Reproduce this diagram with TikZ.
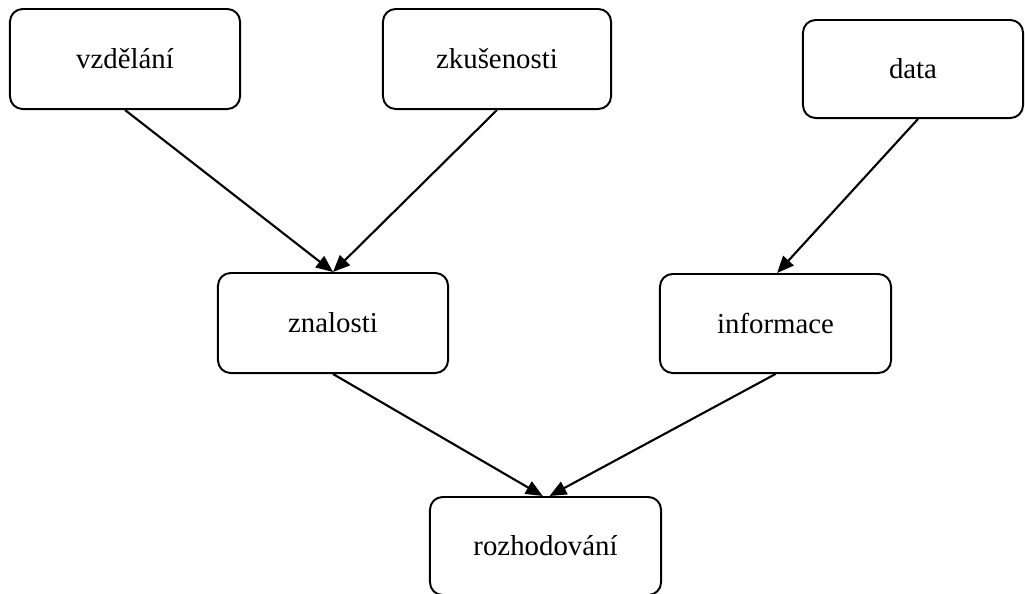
\documentclass[tikz,border=0pt]{standalone}
\usepackage{fontspec}
\setmainfont{Liberation Serif}
\usetikzlibrary{arrows.meta}
\begin{document}
\begin{tikzpicture}[x=0.025cm,y=-0.025cm,
  box/.style={draw,line width=1.4pt,rounded corners=9pt,inner sep=0pt,
    font=\fontsize{20.5pt}{24pt}\selectfont,fill=white},
  arr/.style={-{Triangle[length=12pt,width=10pt]},line width=1.5pt}]
\useasboundingbox (0,0) rectangle (1025,593);
\node[box,minimum width=5.75cm,minimum height=2.5cm] (vzd) at (125,59) {vzdělání};
\node[box,minimum width=5.7cm,minimum height=2.5cm] (zku) at (497,59) {zkušenosti};
\node[box,minimum width=5.5cm,minimum height=2.45cm] (data) at (913,69) {data};
\node[box,minimum width=5.75cm,minimum height=2.5cm] (zna) at (333,323) {znalosti};
\node[box,minimum width=5.775cm,minimum height=2.475cm] (inf) at (775.5,323.5) {informace};
\node[box,minimum width=5.775cm,minimum height=2.45cm] (roz) at (545.5,546) {rozhodování};
\draw[arr] (vzd.south) -- (zna.north);
\draw[arr] (zku.south) -- (zna.north);
\draw[arr] ([xshift=0.125cm]data.south) -- ([xshift=0.04cm]inf.north);
\draw[arr] (zna.south) -- ([xshift=-0.07cm]roz.north);
\draw[arr] (inf.south) -- ([xshift=0.1cm]roz.north);
\end{tikzpicture}
\end{document}
